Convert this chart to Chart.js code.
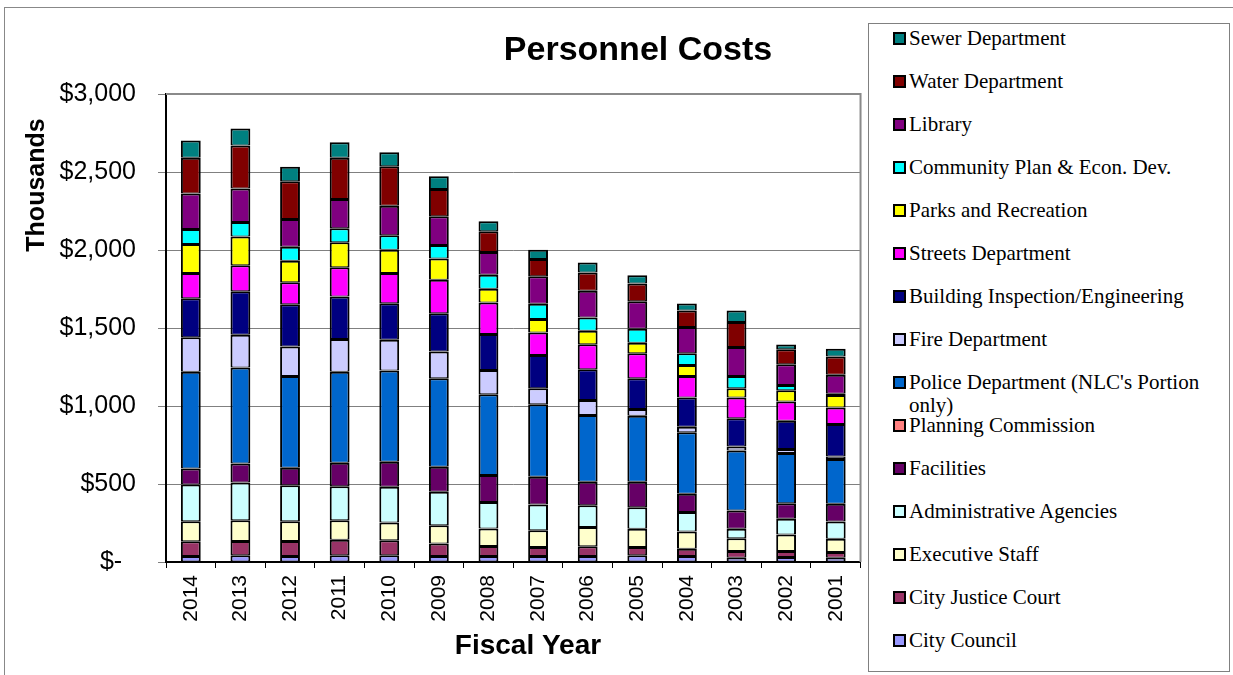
<!DOCTYPE html>
<html>
<head>
<meta charset="utf-8">
<title>Personnel Costs</title>
<script src="https://cdn.jsdelivr.net/npm/chart.js@4/dist/chart.umd.min.js"></script>
<style>
    body { margin: 0; background: #fff; overflow: hidden; }
    #frame { position: absolute; left: 4px; top: 7px; width: 1300px; height: 700px; border-top: 1px solid #888; border-left: 1px solid #888; }
    #wrap { position: absolute; left: 0; top: 0; width: 868px; height: 675px; }
    #legend { position: absolute; left: 868px; top: 23px; width: 360px; height: 647px; border: 1px solid #808080; background: #fff; }
    .item { position: absolute; left: 24px; font: 21px "Liberation Serif", serif; line-height: 23px; color: #000; }
    .item span.box { position: absolute; left: 0; top: 5px; width: 9px; height: 9px; border: 2px solid #000; }
    .item span.txt { position: absolute; left: 16px; top: 0; width: 310px; white-space: normal; }
</style>
</head>
<body>
<div id="frame"></div>
<div id="wrap"><canvas id="costs" width="868" height="675"></canvas></div>
<div id="legend"></div>
<script>
// Fiscal years, newest first (thousands of dollars)
const years = ['2014', '2013', '2012', '2011', '2010', '2009', '2008', '2007', '2006', '2005', '2004', '2003', '2002', '2001'];
const yTicks = [0, 500, 1000, 1500, 2000, 2500, 3000];

const cityCouncil = [38, 43, 39, 43, 43, 39, 39, 39, 39, 43, 38, 28, 32, 28];
const cityJusticeCourt = [95, 92, 96, 100, 96, 79, 64, 57, 62, 53, 47, 42, 38, 36];
const executiveStaff = [128, 133, 126, 125, 114, 118, 111, 107, 124, 117, 111, 83, 107, 85];
const adminAgencies = [236, 242, 231, 218, 229, 214, 171, 165, 139, 138, 124, 60, 100, 111];
const facilities = [103, 122, 112, 150, 160, 160, 172, 178, 150, 164, 117, 117, 100, 113];
const planningCommission = [0, 0, 0, 0, 0, 0, 0, 0, 0, 0, 0, 0, 0, 0];
const police = [620, 614, 589, 584, 585, 568, 518, 465, 428, 422, 394, 384, 322, 287];
const fire = [221, 210, 188, 210, 197, 171, 156, 102, 96, 43, 36, 27, 25, 17];
const buildingInspection = [250, 280, 272, 272, 235, 246, 231, 214, 197, 198, 187, 181, 181, 207];
const streets = [161, 167, 141, 188, 193, 214, 202, 144, 161, 160, 139, 132, 124, 106];
const parks = [186, 184, 137, 159, 150, 137, 87, 86, 86, 68, 70, 60, 72, 81];
const communityPlan = [97, 92, 90, 90, 92, 86, 90, 98, 85, 89, 75, 79, 34, 8];
const library = [227, 215, 178, 188, 190, 184, 146, 176, 172, 177, 168, 185, 132, 122];
const water = [229, 276, 242, 264, 253, 175, 133, 111, 117, 113, 106, 160, 96, 117];
const sewer = [111, 109, 92, 100, 90, 82, 64, 60, 64, 53, 45, 74, 32, 49];

// bottom of the stack first
const series = [
    ['City Council', cityCouncil, '#9999FF'],
    ['City Justice Court', cityJusticeCourt, '#993366'],
    ['Executive Staff', executiveStaff, '#FFFFCC'],
    ['Administrative Agencies', adminAgencies, '#CCFFFF'],
    ['Facilities', facilities, '#660066'],
    ['Planning Commission', planningCommission, '#FF8080'],
    ["Police Department (NLC's Portion only)", police, '#0066CC'],
    ['Fire Department', fire, '#CCCCFF'],
    ['Building Inspection/Engineering', buildingInspection, '#000080'],
    ['Streets Department', streets, '#FF00FF'],
    ['Parks and Recreation', parks, '#FFFF00'],
    ['Community Plan & Econ. Dev.', communityPlan, '#00FFFF'],
    ['Library', library, '#800080'],
    ['Water Department', water, '#800000'],
    ['Sewer Department', sewer, '#008080']
];

const sans = '"Liberation Sans", Arial, sans-serif';

const textPlugin = {
    id: 'texts',
    afterDraw: (chart) => {
        const ctx = chart.ctx;
        const a = chart.chartArea;
        ctx.save();
        // plot area frame (top and right)
        ctx.strokeStyle = '#8a8a8a';
        ctx.lineWidth = 2;
        ctx.beginPath();
        ctx.moveTo(a.left, a.top);
        ctx.lineTo(a.right, a.top);
        ctx.lineTo(a.right, a.bottom);
        ctx.stroke();

        ctx.fillStyle = '#000';
        ctx.textAlign = 'center';
        ctx.textBaseline = 'middle';
        ctx.font = 'bold 34px ' + sans;
        ctx.fillText('Personnel Costs', 638, 51);
        ctx.font = 'bold 28px ' + sans;
        ctx.fillText('Fiscal Year', 528, 646);
        ctx.translate(37, 185);
        ctx.rotate(-Math.PI / 2);
        ctx.font = 'bold 25px ' + sans;
        ctx.fillText('Thousands', 0, 0);
        ctx.restore();
    }
};

const buildLegend = (chart) => {
    const legend = document.getElementById('legend');
    const sets = chart.data.datasets.slice().reverse();
    let html = '';
    sets.forEach((ds, i) => {
        const top = 37 + 43 * i - 11.5 - 23;
        html += '<div class="item" style="top:' + top + 'px"><span class="box" style="background:' +
            ds.backgroundColor + '"></span><span class="txt">' + ds.label + '</span></div>';
    });
    legend.innerHTML = html;
};

document.addEventListener('DOMContentLoaded', () => {
    const canvas = document.getElementById('costs');
    const chart = new Chart(canvas, {
        type: 'bar',
        data: {
            labels: years,
            datasets: series.map(([label, data, color]) => ({
                label: label,
                data: data,
                backgroundColor: color,
                borderColor: '#000',
                // shared edges add up, so keep the bottom edge thin
                borderWidth: { top: 2, bottom: 1, left: 2, right: 2 },
                borderSkipped: false,
                barPercentage: 0.4,
                categoryPercentage: 1
            }))
        },
        options: {
            responsive: false,
            animation: false,
            devicePixelRatio: 1,
            layout: { padding: { top: 94, right: 2, left: 0, bottom: 0 } },
            plugins: {
                legend: { display: false },
                title: { display: false },
                tooltip: { enabled: false }
            },
            scales: {
                x: {
                    stacked: true,
                    grid: { drawOnChartArea: false, tickLength: 6, color: '#000', offset: true },
                    border: { color: '#000', width: 2 },
                    ticks: {
                        minRotation: 90,
                        maxRotation: 90,
                        padding: 7,
                        color: '#000',
                        font: { family: sans, size: 21 }
                    },
                    afterFit: (s) => { s.height = 113; }
                },
                y: {
                    stacked: true,
                    min: yTicks[0],
                    max: yTicks[yTicks.length - 1],
                    afterBuildTicks: (s) => { s.ticks = yTicks.map(v => ({ value: v })); },
                    grid: { color: '#808080', lineWidth: 1, tickLength: 8 },
                    border: { color: '#000', width: 2 },
                    ticks: {
                        padding: 22,
                        color: '#000',
                        font: { family: sans, size: 25 },
                        callback: (v) => v === 0 ? '$-\u00a0\u00a0' : '$' + v.toLocaleString('en-US')
                    },
                    afterFit: (s) => { s.width = 166; }
                }
            }
        },
        plugins: [textPlugin]
    });
    buildLegend(chart);
});
</script>
</body>
</html>
